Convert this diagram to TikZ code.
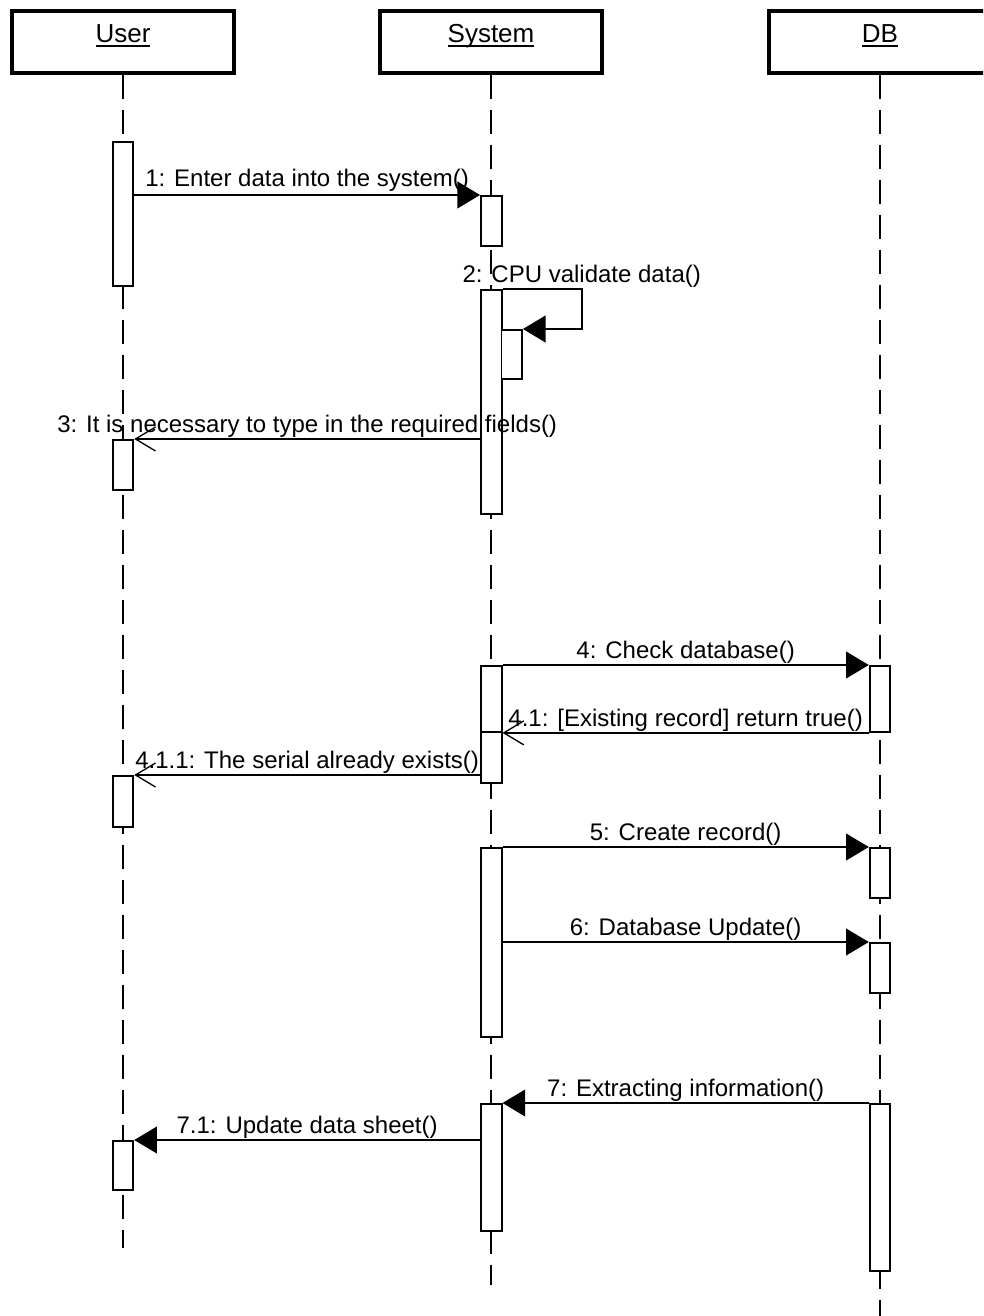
\documentclass[tikz,border=0pt]{standalone}
\usepackage{fontspec}
\setmainfont{Liberation Sans}
\usetikzlibrary{arrows.meta,calc}
\newcommand\ulname[1]{\setbox0\hbox{#1}\rlap{\rule[-2.8pt]{\wd0}{1.6pt}}\box0}
\begin{document}
\begin{tikzpicture}[x=0.75pt,y=-0.75pt,
  every node/.style={font=\fontsize{18pt}{20pt}\selectfont},
  head/.style={draw, line width=2.5pt, fill=white, minimum width=166.5pt,
    inner sep=0pt, text height=24pt, text depth=22.5pt,
    font=\fontsize{19.5pt}{22pt}\selectfont},
  life/.style={line width=1.4pt, dash pattern=on 18pt off 8.25pt},
  act/.style={draw, line width=1.4pt, fill=white, minimum width=15.4pt,
    inner sep=0pt, anchor=north, minimum height=#1*0.75pt},
  msg/.style={line width=1.3pt},
  fillarrow/.style={-{Triangle[length=17pt,width=20pt]}},
  openarrow/.style={-{Straight Barb[length=15pt,width=18pt,line width=1pt]}},
  lbl/.style={anchor=base, yshift=5pt, inner sep=0pt}]
\useasboundingbox (0,0) rectangle (983,1316);
\clip (0,0) rectangle (983,1316);
\fill[white] (0,0) rectangle (983,1316);

% heads
\node[head] (hu) at (123,42) {\ulname{User}};
\node[head] (hs) at (491,42) {\ulname{System}};
\node[head] (hd) at (880,42) {\ulname{DB}};

% lifeline ends
\coordinate (eu) at (123,1248);
\coordinate (es) at (491,1285);
\coordinate (ed) at (880,1330);
\draw[life] (hu.south) -- (eu);
\draw[life] (hs.south) -- (es);
\draw[life] (hd.south) -- (ed);

% activations: User
\node[act=144] (ua1) at (123,141) {};
\node[act=50]  (ua2) at (123,439) {};
\node[act=51]  (ua3) at (123,775) {};
\node[act=49]  (ua4) at (123,1140) {};
% activations: System
\node[act=50]  (sa1) at (491.3,195) {};
\node[act=224] (sa2) at (491.3,289) {};
\node[act=49]  (sa2b) at (511.7,329) {};
\node[act=66]  (sa3) at (491.3,665) {};
\node[act=51]  (sa3b) at (491.3,731) {};
\node[act=189] (sa4) at (491.3,847) {};
\node[act=127] (sa5) at (491.3,1103) {};
% activations: DB
\node[act=66]  (da1) at (880,665) {};
\node[act=50]  (da2) at (880,847) {};
\node[act=50]  (da3) at (880,942) {};
\node[act=167] (da4) at (880,1103) {};

% messages
\draw[msg,fillarrow] (ua1.east |- sa1.north) -- (sa1.north west)
  node[lbl,midway,yshift=1.5pt] {1: Enter data into the system()};

\coordinate (s2turn) at (581.7,289);
\draw[msg,fillarrow] (sa2.north east) -- (s2turn) |- (sa2b.north east);
\node[lbl] (l2) at (s2turn) {2: CPU validate data()};

\draw[msg,openarrow] (sa2.west |- ua2.north) -- (ua2.north east)
  node[lbl,midway] {3: It is necessary to type in the required fields()};

\draw[msg,fillarrow] (sa3.north east) -- (da1.north west)
  node[lbl,midway] {4: Check database()};

\draw[msg,openarrow] (da1.south west) -- (sa3.south east)
  node[lbl,midway] {4.1: [Existing record] return true()};

\draw[msg,openarrow] (sa3b.west |- ua3.north) -- (ua3.north east)
  node[lbl,midway] {4.1.1: The serial already exists()};

\draw[msg,fillarrow] (sa4.north east) -- (da2.north west)
  node[lbl,midway] {5: Create record()};

\draw[msg,fillarrow] (sa4.east |- da3.north) -- (da3.north west)
  node[lbl,midway] {6: Database Update()};

\draw[msg,fillarrow] (da4.north west) -- (sa5.north east)
  node[lbl,midway] {7: Extracting information()};

\draw[msg,fillarrow] (sa5.west |- ua4.north) -- (ua4.north east)
  node[lbl,midway] {7.1: Update data sheet()};
\end{tikzpicture}
\end{document}
